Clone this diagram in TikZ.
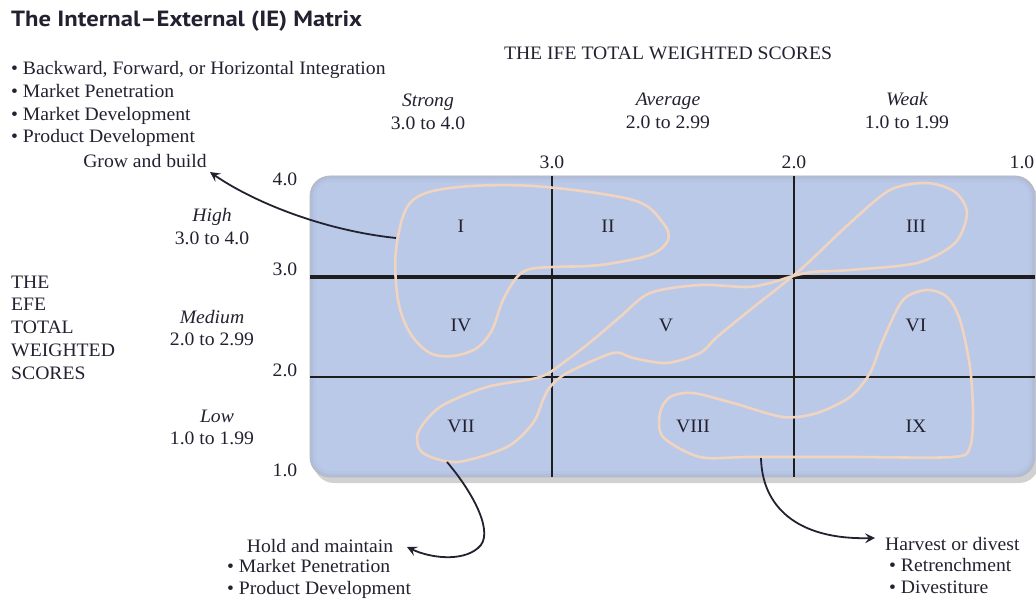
\documentclass[tikz,border=0pt]{standalone}
\usepackage{fontspec}
\setmainfont[FakeStretch=1.035]{Liberation Serif}
\newfontfamily\titlefont[FakeStretch=1.12]{PT Sans}
\usetikzlibrary{arrows.meta,shadows}
\definecolor{cellblue}{RGB}{186,201,231}
\definecolor{celledge}{RGB}{165,178,208}
\definecolor{loopc}{RGB}{240,212,192}
\definecolor{txt}{RGB}{35,33,48}
\definecolor{gridc}{RGB}{30,30,30}
\begin{document}
\begin{tikzpicture}[x=1pt,y=-1pt,
  every node/.style={text=txt,inner sep=0pt,anchor=base,font=\fontsize{19}{23}\selectfont},
  itl/.style={font=\fontsize{19}{23}\selectfont\itshape},
  lft/.style={anchor=base west},
  gridline/.style={draw=gridc,line width=2.8pt},
  loopline/.style={draw=loopc,line width=2.6pt},
  conn/.style={draw=txt,line width=1.8pt,-{Stealth[length=10pt,width=10pt,inset=4pt]}}
]
\useasboundingbox (0,0) rectangle (1036,601);
% title
\node[lft,font=\titlefont\bfseries\fontsize{22}{24}\selectfont] (title) at (11,27) {The Internal–External (IE) Matrix};
% top-left strategies
\node[lft] (g1) at (11,75) {• Backward, Forward, or Horizontal Integration};
\node[lft] (g2) at (11,98) {• Market Penetration};
\node[lft] (g3) at (11,121) {• Market Development};
\node[lft] (g4) at (11,143) {• Product Development};
\node (grow) at (145,168) {Grow and build};
% IFE heading
\node (ife) at (668,60) {THE IFE TOTAL WEIGHTED SCORES};
\node[itl] (cs) at (428,107) {Strong};
\node (cs2) at (428,130) {3.0 to 4.0};
\node[itl] (ca) at (668,106) {Average};
\node (ca2) at (668,129) {2.0 to 2.99};
\node[itl] (cw) at (907,106) {Weak};
\node (cw2) at (907,129) {1.0 to 1.99};
% axis numbers
\node (x3) at (552,169) {3.0};
\node (x2) at (794,169) {2.0};
\node (x1) at (1022,169) {1.0};
\node (y4) at (285,186) {4.0};
\node (y3) at (285,276) {3.0};
\node (y2) at (285,377) {2.0};
\node (y1) at (285,476) {1.0};
% row labels
\node[itl] (rh) at (212,222) {High};
\node (rh2) at (212,245) {3.0 to 4.0};
\node[itl] (rm) at (212,324) {Medium};
\node (rm2) at (212,346) {2.0 to 2.99};
\node[itl] (rl) at (217,422) {Low};
\node (rl2) at (212,444) {1.0 to 1.99};
% EFE block
\node[lft] (e1) at (11,289) {THE};
\node[lft] (e2) at (11,311) {EFE};
\node[lft] (e3) at (11,334) {TOTAL};
\node[lft] (e4) at (11,357) {WEIGHTED};
\node[lft] (e5) at (11,380) {SCORES};
% matrix
\path[fill=cellblue,rounded corners=20pt,
  drop shadow={shadow xshift=4pt,shadow yshift=-6pt,opacity=0.3,fill=gray!80!black}]
  (310,176) rectangle (1035,477);
\begin{scope}
  \clip[rounded corners=20pt] (310,176) rectangle (1035,477);
  \draw[celledge,line width=6pt,rounded corners=20pt,opacity=0.35] (310,176) rectangle (1035,477);
  \draw[celledge,line width=12pt,rounded corners=20pt,opacity=0.15] (310,176) rectangle (1035,477);
\end{scope}
\draw[gray!55,line width=0.8pt,rounded corners=20pt] (310,176) rectangle (1035,477);
\draw[gridline] (552,176) -- (552,477);
\draw[gridline] (794,176) -- (794,477);
\draw[gridline,line width=3.6pt] (310,277) -- (1035,277);
\draw[gridline] (310,377) -- (1035,377);
% loops
\draw[loopline] plot[smooth cycle,tension=0.55] coordinates {
 (396,250) (410,203) (450,188) (533,186) (633,200) (663,223) (668,240) (650,255)
 (600,265) (553,267) (530,269) (517,277) (503,300) (492,330) (477,348) (453,356)
 (430,353) (410,333) (398,300)};
\draw[loopline] plot[smooth cycle,tension=0.5] coordinates {
 (927,183) (955,192) (967,213) (955,243) (917,263) (850,270) (813,272) (793,276)
 (770,283) (747,287) (700,285) (650,293) (620,317) (593,340) (567,360) (540,377)
 (487,387) (440,407) (418,433) (423,453) (457,462) (507,447) (533,423) (543,400)
 (550,387) (567,373) (613,353) (633,358) (667,363) (700,353) (717,337) (750,310)
 (800,270) (850,223) (890,190)};
\draw[loopline] plot[smooth cycle,tension=0.5] coordinates {
 (927,290) (947,297) (960,320) (970,367) (973,413) (970,447) (953,457) (850,457)
 (750,457) (700,457) (663,437) (660,413) (670,397) (693,393) (733,403) (783,417)
 (817,413) (850,397) (870,373) (883,340) (903,300)};
% cell numerals
\node (c1) at (461,233) {I};
\node (c2) at (608,233) {II};
\node (c3) at (916,233) {III};
\node (c4) at (461,332) {IV};
\node (c5) at (666,332) {V};
\node (c6) at (916,332) {VI};
\node (c7) at (461,432) {VII};
\node (c8) at (693,432) {VIII};
\node (c9) at (916,432) {IX};
% bottom texts
\node (hold) at (320,552) {Hold and maintain};
\node[lft] (h1) at (227,572) {• Market Penetration};
\node[lft] (h2) at (227,594) {• Product Development};
\node[lft] (harv) at (885,550) {Harvest or divest};
\node[lft] (v1) at (889,571) {• Retrenchment};
\node[lft] (v2) at (889,593) {• Divestiture};
% connector endpoints
\coordinate (sA) at (396,238);
\coordinate (sB) at (447,462);
\coordinate (sC) at (761,458);
\coordinate (tA) at (210,172);
\coordinate (tB) at (407,547);
\coordinate (tC) at (875,538);
\draw[conn] (sA) .. controls (320,230) and (250,200) .. (tA);
\draw[conn] (sB) .. controls (475,495) and (495,535) .. (478,548) .. controls (462,562) and (430,558) .. (tB);
\draw[conn] (sC) .. controls (762,505) and (795,540) .. (tC);
\end{tikzpicture}
\end{document}
